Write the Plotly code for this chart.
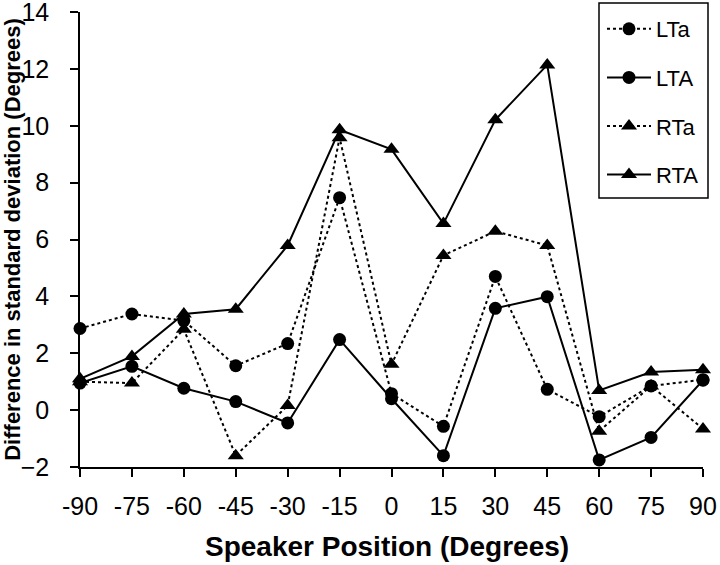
import plotly.graph_objects as go

positions = [-90, -75, -60, -45, -30, -15, 0, 15, 30, 45, 60, 75, 90]
LTa = [2.87, 3.38, 3.15, 1.56, 2.34, 7.47, 0.58, -0.57, 4.70, 0.73, -0.23, 0.85, 1.07]
LTA = [0.95, 1.54, 0.77, 0.30, -0.45, 2.48, 0.40, -1.60, 3.58, 3.99, -1.75, -0.96, 1.05]
RTa = [1.00, 0.95, 2.84, -1.60, 0.16, 9.58, 1.61, 5.44, 6.29, 5.79, -0.74, 0.85, -0.66]
RTA = [1.10, 1.89, 3.38, 3.55, 5.79, 9.86, 9.17, 6.56, 10.21, 12.14, 0.69, 1.34, 1.42]
y_ticks = [-2, 0, 2, 4, 6, 8, 10, 12, 14]
x_title = "Speaker Position (Degrees)"
y_title = "Difference in standard deviation (Degrees)"

series = [
    ("LTa", LTa, "dot", "circle", 13),
    ("LTA", LTA, "solid", "circle", 13),
    ("RTa", RTa, "dot", "triangle-up", 14),
    ("RTA", RTA, "solid", "triangle-up", 14),
]

fig = go.Figure()
for name, vals, dash, sym, msize in series:
    fig.add_trace(go.Scatter(
        x=positions, y=vals, name=name, mode="lines+markers",
        line=dict(color="black", width=2, dash=dash),
        marker=dict(symbol=sym, size=msize, color="black"),
        cliponaxis=False, legendgroup=name,
    ))

W, H = 720, 565
ML, MR, MT, MB = 80, 17, 12, 98
pw, ph = W - ML - MR, H - MT - MB

def px_x(p):
    return (p - ML) / pw

def px_y(p):
    return (H - MB - p) / ph

# legend frame (599..708 x 3..198 px)
fig.add_shape(
    type="rect", xref="paper", yref="paper",
    x0=px_x(599), x1=px_x(708), y0=px_y(198), y1=px_y(3),
    line=dict(color="black", width=1.5), fillcolor="rgba(0,0,0,0)", layer="above",
)

# x-axis title
fig.add_annotation(
    text="<b>" + x_title + "</b>", xref="paper", yref="paper",
    x=px_x(387), y=px_y(546), xanchor="center", yanchor="middle",
    showarrow=False, font=dict(size=28),
)

font_family = "Liberation Sans, Arial, sans-serif"
fig.update_layout(
    width=W, height=H,
    margin=dict(l=ML, r=MR, t=MT, b=MB, autoexpand=False),
    paper_bgcolor="white", plot_bgcolor="white",
    font=dict(family=font_family, color="black", size=25),
    showlegend=True,
    legend=dict(
        xref="container", yref="container",
        x=602 / W, y=1 - 8 / H, xanchor="left", yanchor="top",
        borderwidth=0, bgcolor="rgba(0,0,0,0)",
        font=dict(size=22), traceorder="grouped", tracegroupgap=17,
        itemwidth=44,
    ),
    xaxis=dict(
        range=[-90, 90], tickvals=positions, ticktext=[str(p) for p in positions],
        showline=True, linecolor="black", linewidth=1.5,
        ticks="outside", ticklen=8, tickwidth=1.5, tickcolor="black",
        showgrid=False, zeroline=False, automargin=False,
        tickfont=dict(size=25), ticklabelstandoff=8, ticklabeloverflow="allow",
    ),
    yaxis=dict(
        range=[-2, 14], tickvals=y_ticks,
        showline=True, linecolor="black", linewidth=1.5,
        ticks="outside", ticklen=8, tickwidth=1.5, tickcolor="black",
        showgrid=False, zeroline=False, automargin=False,
        tickfont=dict(size=25), ticklabelstandoff=16, ticklabeloverflow="allow",
        title=dict(text="<b>" + y_title + "</b>", font=dict(size=22), standoff=2),
    ),
)

fig.write_html(
    "out.html",
    config={"displayModeBar": False},
    post_script="document.body.style.margin='0';document.body.style.padding='0';",
)
